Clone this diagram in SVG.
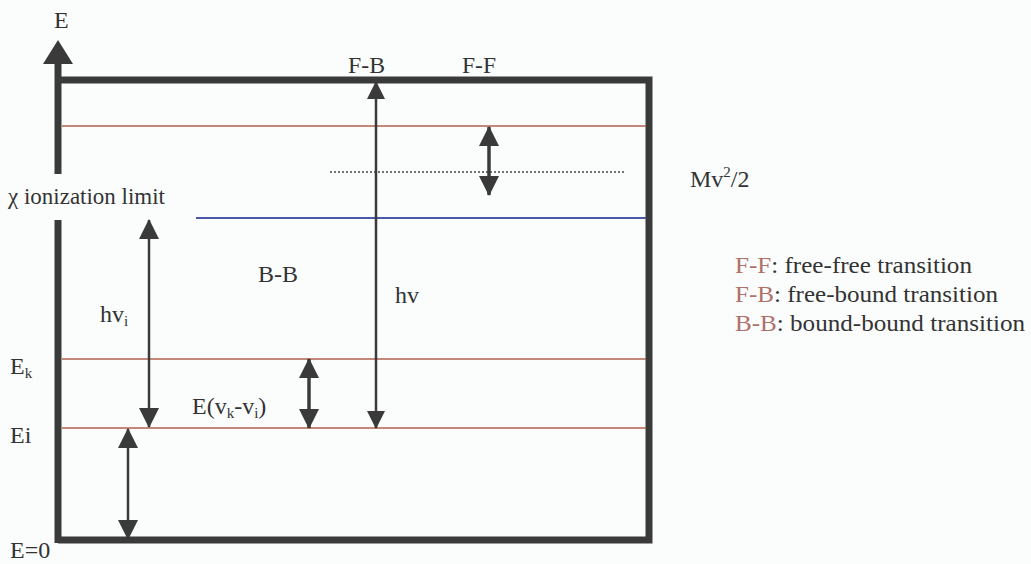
<svg xmlns="http://www.w3.org/2000/svg" width="1031" height="564" viewBox="0 0 1031 564">
<defs>
<marker id="ah" markerUnits="userSpaceOnUse" markerWidth="20" markerHeight="20" refX="19" refY="10" orient="auto-start-reverse" viewBox="0 0 20 20">
<path d="M0,0 L20,10 L0,20 z" fill="#3a3a3a"/>
</marker>
<marker id="ahs" markerUnits="userSpaceOnUse" markerWidth="18" markerHeight="18" refX="17" refY="9" orient="auto-start-reverse" viewBox="0 0 18 18">
<path d="M0,0 L18,9 L0,18 z" fill="#3a3a3a"/>
</marker>
</defs>
<style>
text { font-family: "Liberation Serif", "Times New Roman", serif; font-size: 24px; fill: #333; }
.lab { fill: #b0706a; }
.frame { stroke: #3a3a3a; stroke-width: 7; fill: none; }
.lvl { stroke: #b0604c; stroke-width: 1.6; }
.blue { stroke: #4a5aa8; stroke-width: 1.8; }
.dot { stroke: #444; stroke-width: 1.6; stroke-dasharray: 2 2; }
.arr { stroke: #3a3a3a; stroke-width: 2.5; }
.arrt { stroke: #3a3a3a; stroke-width: 3.5; }
.sub { font-size: 15px; }
</style>
<rect width="1031" height="564" fill="#fbfdfd"/>

<g id="frame">
<polyline class="frame" points="58,80 649,80 649,540 58,540"/>
<line class="frame" x1="58" y1="60" x2="58" y2="174"/>
<line class="frame" x1="58" y1="220" x2="58" y2="543"/>
<polygon points="58,40 43,64 73,64" fill="#3a3a3a"/>
</g>

<g id="levels">
<line class="lvl" x1="62" y1="126" x2="646" y2="126"/>
<line class="dot" x1="330" y1="172" x2="625" y2="172"/>
<line class="blue" x1="196" y1="218" x2="646" y2="218"/>
<line class="lvl" x1="62" y1="359" x2="646" y2="359"/>
<line class="lvl" x1="62" y1="428" x2="646" y2="428"/>
</g>

<g id="connectors">
<line class="arr" x1="376" y1="82" x2="376" y2="428" marker-start="url(#ahs)" marker-end="url(#ahs)"/>
<line class="arrt" x1="489" y1="127" x2="489" y2="195" marker-start="url(#ah)" marker-end="url(#ah)"/>
<line class="arr" x1="149" y1="220" x2="149" y2="427" marker-start="url(#ah)" marker-end="url(#ah)"/>
<line class="arrt" x1="309" y1="359" x2="309" y2="428" marker-start="url(#ah)" marker-end="url(#ah)"/>
<line class="arr" x1="128" y1="429" x2="128" y2="539" marker-start="url(#ah)" marker-end="url(#ah)"/>
</g>

<g id="labels">
<text x="54" y="28">E</text>
<text x="348" y="73" textLength="37" lengthAdjust="spacingAndGlyphs">F-B</text>
<text x="462" y="73" textLength="34" lengthAdjust="spacingAndGlyphs">F-F</text>
<text x="690" y="187">Mv<tspan class="sub" dy="-10">2</tspan><tspan dy="10">/2</tspan></text>
<text x="8" y="204" textLength="157" lengthAdjust="spacingAndGlyphs">χ ionization limit</text>
<text x="258" y="282">B-B</text>
<text x="100" y="322">hv<tspan class="sub" dy="4">i</tspan></text>
<text x="395" y="303">hv</text>
<text x="10" y="374">E<tspan class="sub" dy="4">k</tspan></text>
<text x="10" y="443">Ei</text>
<text x="10" y="558">E=0</text>
<text x="192" y="414">E(v<tspan class="sub" dy="4">k</tspan><tspan dy="-4">-v</tspan><tspan class="sub" dy="4">i</tspan><tspan dy="-4">)</tspan></text>
</g>

<g id="legend">
<text x="735" y="273" textLength="237" lengthAdjust="spacingAndGlyphs"><tspan class="lab">F-F</tspan>: free-free transition</text>
<text x="735" y="302" textLength="263" lengthAdjust="spacingAndGlyphs"><tspan class="lab">F-B</tspan>: free-bound transition</text>
<text x="735" y="331" textLength="290" lengthAdjust="spacingAndGlyphs"><tspan class="lab">B-B</tspan>: bound-bound transition</text>
</g>
</svg>
